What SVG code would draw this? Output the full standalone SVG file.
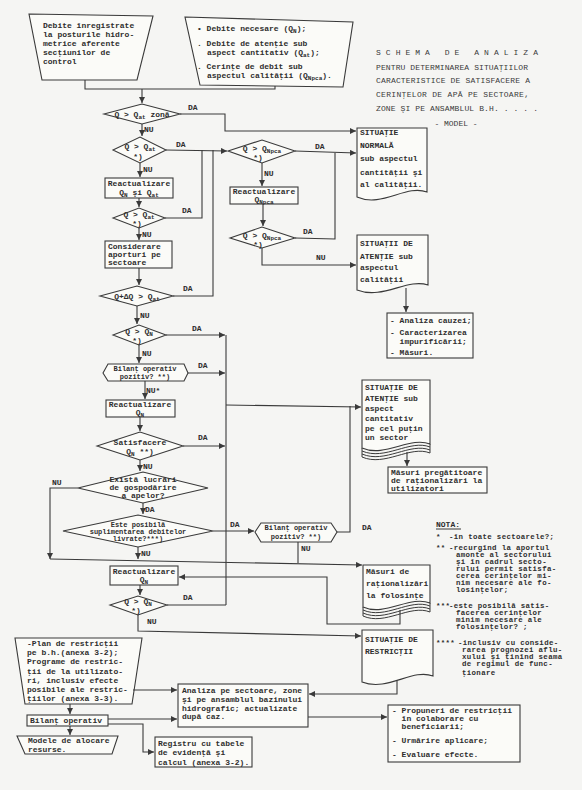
<svg xmlns="http://www.w3.org/2000/svg" width="582" height="790" viewBox="0 0 582 790">
<defs>
<style>
.n{fill:#fbfbf8;stroke:#3a3a3a;stroke-width:1.1}
.e{fill:none;stroke:#3a3a3a;stroke-width:1.1}
.w{fill:none;stroke:#3a3a3a;stroke-width:1}
text{font-family:"Liberation Mono","DejaVu Sans Mono",monospace;font-size:8px;fill:#2e2e2e;font-weight:bold}
.c{text-anchor:middle}
.s{font-size:6px}
.m{font-size:7px}
.nt{font-size:7.4px;letter-spacing:0.35px}
.ti{font-weight:normal;fill:#3a3a3a;white-space:pre}
</style>
<marker id="ar" viewBox="0 0 8 8" refX="8" refY="4" markerWidth="6" markerHeight="6" orient="auto" markerUnits="userSpaceOnUse">
<path d="M0,0 L8,4 L0,8 Z" fill="#3a3a3a"/>
</marker>
</defs>
<rect width="582" height="790" fill="#f5f5f3"/>

<g id="title">
<text class="ti" xml:space="preserve" x="376" y="55" textLength="162">S C H E M A   D E   A N A L I Z A</text>
<text class="ti" x="376" y="70" textLength="152">PENTRU DETERMINAREA SITUAŢIILOR</text>
<text class="ti" x="376" y="83" textLength="154">CARACTERISTICE DE SATISFACERE A</text>
<text class="ti" x="376" y="97" textLength="153">CERINŢELOR DE APĂ PE SECTOARE,</text>
<text class="ti" x="376" y="111" textLength="162">ZONE ŞI PE ANSAMBLUL B.H. . . . .</text>
<text class="ti c" x="456" y="126">- MODEL -</text>
</g>

<g id="debite-inregistrate">
<polygon class="n" points="29,14 153,16 137,80 42,80"/>
<text x="43" y="28"><tspan x="43" y="28">Debite înregistrate</tspan><tspan x="43" y="37">la posturile hidro-</tspan><tspan x="43" y="46">metrice aferente</tspan><tspan x="43" y="55">secţiunilor de</tspan><tspan x="43" y="64">control</tspan></text>
</g>

<g id="debite-necesare">
<polygon class="n" points="185,17 353,22 343,87 200,85"/>
<text x="197" y="31"><tspan x="197" y="31">• Debite necesare (Q</tspan><tspan class="s" dy="2">N</tspan><tspan dy="-2">);</tspan><tspan x="197" y="46">. Debite de atenţie sub</tspan><tspan x="207" y="55">aspect cantitativ (Q</tspan><tspan class="s" dy="2">at</tspan><tspan dy="-2">);</tspan><tspan x="197" y="69">. Cerinţe de debit sub</tspan><tspan x="207" y="78">aspectul calităţii (Q</tspan><tspan class="s" dy="2">Npca</tspan><tspan dy="-2">).</tspan></text>
</g>

<g id="d1">
<polygon class="n" points="104,114 142,104 180,114 142,124"/>
<text class="c" x="142" y="117">Q &gt; Q<tspan class="s" dy="2">at</tspan><tspan dy="-2"> zonă</tspan></text>
</g>

<g id="d2">
<polygon class="n" points="113,150 140,137 166,150 140,163"/>
<text class="c" x="140" y="149">Q &gt; Q<tspan class="s" dy="2">at</tspan><tspan x="138" y="159">*)</tspan></text>
</g>

<g id="reactualizare-qn-qat">
<rect class="n" x="105" y="178" width="68" height="20"/>
<text class="c" x="139" y="186"><tspan x="139" y="186">Reactualizare</tspan><tspan x="139" y="195">Q</tspan><tspan class="s" dy="2">N</tspan><tspan dy="-2"> şi Q</tspan><tspan class="s" dy="2">at</tspan></text>
</g>

<g id="d4">
<polygon class="n" points="113,218 139,208 165,218 139,228"/>
<text class="c" x="139" y="217">Q &gt; Q<tspan class="s" dy="2">at</tspan><tspan x="137" y="226">*)</tspan></text>
</g>

<g id="considerare">
<rect class="n" x="105" y="241" width="67" height="27"/>
<text x="108" y="249"><tspan x="108" y="249">Considerare</tspan><tspan x="108" y="257">aporturi pe</tspan><tspan x="108" y="265">sectoare</tspan></text>
</g>

<g id="d5">
<polygon class="n" points="100,296 137,286 173,296 137,306"/>
<text class="c" x="137" y="299">Q+ΔQ &gt; Q<tspan class="s" dy="2">at</tspan></text>
</g>

<g id="d6">
<polygon class="n" points="113,335 139,325 166,335 139,345"/>
<text class="c" x="139" y="334">Q &gt; Q<tspan class="s" dy="2">N</tspan><tspan x="137" y="343">*)</tspan></text>
</g>

<g id="bilant-1">
<polygon class="n" points="103,373 108,364 184,364 188,373 184,381 108,381"/>
<text class="c m" x="145" y="371"><tspan x="145" y="371">Bilanţ operativ</tspan><tspan x="145" y="379">pozitiv? **)</tspan></text>
</g>

<g id="reactualizare-qn-1">
<rect class="n" x="106" y="400" width="69" height="17"/>
<text class="c" x="140" y="407"><tspan x="140" y="407">Reactualizare</tspan><tspan x="140" y="415">Q</tspan><tspan class="s" dy="2">N</tspan></text>
</g>

<g id="d8">
<polygon class="n" points="97,446 140,432 183,446 140,460"/>
<text class="c" x="140" y="445"><tspan x="140" y="445">Satisfacere</tspan><tspan x="140" y="454">Q</tspan><tspan class="s" dy="2">N</tspan><tspan dy="-2"> **)</tspan></text>
</g>

<g id="d9">
<polygon class="n" points="78,488 143,472 208,488 143,503"/>
<text class="c" x="143" y="482"><tspan x="143" y="482">Există lucrări</tspan><tspan x="143" y="490">de gospodărire</tspan><tspan x="143" y="498">a apelor?</tspan></text>
</g>

<g id="d10">
<polygon class="n" points="63,531 138,515 213,531 138,547"/>
<text class="c m" x="138" y="527"><tspan x="138" y="527">Este posibilă</tspan><tspan x="138" y="534">suplimentarea debitelor</tspan><tspan x="138" y="541">livrate?***)</tspan></text>
</g>

<g id="bilant-2">
<polygon class="n" points="255,532 261,523 331,523 337,532 331,542 261,542"/>
<text class="c m" x="296" y="530"><tspan x="296" y="530">Bilanţ operativ</tspan><tspan x="296" y="539">pozitiv? **)</tspan></text>
</g>

<g id="reactualizare-qn-2">
<rect class="n" x="110" y="566" width="68" height="19"/>
<text class="c" x="144" y="574"><tspan x="144" y="574">Reactualizare</tspan><tspan x="144" y="582">Q</tspan><tspan class="s" dy="2">N</tspan></text>
</g>

<g id="d11">
<polygon class="n" points="110,605 138,596 167,605 138,615"/>
<text class="c" x="138" y="604">Q &gt; Q<tspan class="s" dy="2">N</tspan><tspan x="136" y="613">*)</tspan></text>
</g>

<g id="d3">
<polygon class="n" points="228,151 262,140 295,151 262,163"/>
<text class="c" x="262" y="151">Q &gt; Q<tspan class="s" dy="2">Npca</tspan><tspan x="258" y="160">*)</tspan></text>
</g>

<g id="reactualizare-qnpca">
<rect class="n" x="230" y="187" width="68" height="17"/>
<text class="c" x="264" y="194"><tspan x="264" y="194">Reactualizare</tspan><tspan x="264" y="202">Q</tspan><tspan class="s" dy="2">Npca</tspan></text>
</g>

<g id="d7">
<polygon class="n" points="230,238 262,227 295,238 262,248"/>
<text class="c" x="262" y="238">Q &gt; Q<tspan class="s" dy="2">Npca</tspan><tspan x="258" y="247">*)</tspan></text>
</g>

<g id="situatie-normala">
<path class="n" d="M357,128 H427 V192 C406,184 382,208 357,197 Z"/>
<text x="360" y="135"><tspan x="360" y="135">SITUAŢIE</tspan><tspan x="360" y="148">NORMALĂ</tspan><tspan x="360" y="161">sub aspectul</tspan><tspan x="360" y="175">cantităţii şi</tspan><tspan x="360" y="187">al calităţii.</tspan></text>
</g>

<g id="situatii-atentie-calitate">
<path class="n" d="M357,235 H428 V285 C407,278 383,300 357,290 Z"/>
<text x="360" y="246"><tspan x="360" y="246">SITUAŢII DE</tspan><tspan x="360" y="259">ATENŢIE sub</tspan><tspan x="360" y="270">aspectul</tspan><tspan x="360" y="282">calităţii</tspan></text>
</g>

<g id="analiza-cauzei">
<rect class="n" x="387" y="313" width="86" height="45"/>
<text x="390" y="323"><tspan x="390" y="323">- Analiza cauzei;</tspan><tspan x="390" y="335">- Caracterizarea</tspan><tspan x="390" y="344" xml:space="preserve">  impurificării;</tspan><tspan x="390" y="355">- Măsuri.</tspan></text>
</g>

<g id="situatie-atentie-cantitativ">
<path class="n" d="M362,380 H430 V444 C410,436 385,458 362,448 Z"/>
<path class="w" d="M362,451 C385,461 410,439 430,447"/>
<path class="w" d="M362,454 C385,464 410,442 430,450"/>
<path class="w" d="M362,457 C385,467 410,445 430,453"/>
<path class="w" d="M362,448 V457 M430,444 V453"/>
<text x="365" y="390"><tspan x="365" y="390">SITUAŢIE DE</tspan><tspan x="365" y="401">ATENŢIE sub</tspan><tspan x="365" y="411">aspect</tspan><tspan x="365" y="421">cantitativ</tspan><tspan x="365" y="431">pe cel puţin</tspan><tspan x="365" y="440">un sector</tspan></text>
</g>

<g id="masuri-pregatitoare">
<rect class="n" x="388" y="467" width="99" height="26"/>
<text x="391" y="475"><tspan x="391" y="475">Măsuri pregătitoare</tspan><tspan x="391" y="483">de raţionalizări la</tspan><tspan x="391" y="491">utilizatori</tspan></text>
</g>

<g id="masuri-rationalizare">
<path class="n" d="M363,565 H430 V603 C410,595 385,617 363,607 Z"/>
<path class="w" d="M363,610 C385,620 410,598 430,606"/>
<path class="w" d="M363,613 C385,623 410,601 430,609"/>
<path class="w" d="M363,616 C385,626 410,604 430,612"/>
<path class="w" d="M363,607 V616 M430,603 V612"/>
<text x="366" y="574"><tspan x="366" y="574">Măsuri de</tspan><tspan x="366" y="586">raţionalizări</tspan><tspan x="366" y="598">la folosinţe</tspan></text>
</g>

<g id="situatie-restrictii">
<path class="n" d="M362,630 H433 V676 C412,668 388,692 362,682 Z"/>
<text x="365" y="642"><tspan x="365" y="642">SITUAŢIE DE</tspan><tspan x="365" y="654">RESTRICŢII</tspan></text>
</g>

<g id="nota">
<text x="436" y="527">NOTA:</text>
<line class="w" x1="436" y1="529" x2="461" y2="529"/>
<text class="nt" x="436" y="539"><tspan x="436" y="539">*</tspan><tspan x="449" y="539">-în toate sectoarele?;</tspan></text>
<text class="nt" x="436" y="550"><tspan x="436" y="550">**</tspan><tspan x="449" y="550">-recurgînd la aportul</tspan><tspan x="456" y="557">amonte al sectorului</tspan><tspan x="456" y="564">şi în cadrul secto-</tspan><tspan x="456" y="571">rului permit satisfa-</tspan><tspan x="456" y="578">cerea cerinţelor mi-</tspan><tspan x="456" y="585">nim necesare ale fo-</tspan><tspan x="456" y="592">losinţelor;</tspan></text>
<text class="nt" x="436" y="608"><tspan x="436" y="608">***</tspan><tspan x="449" y="608">-este posibilă satis-</tspan><tspan x="456" y="615">facerea cerinţelor</tspan><tspan x="456" y="622">minim necesare ale</tspan><tspan x="456" y="629">folosinţelor? ;</tspan></text>
<text class="nt" x="436" y="645"><tspan x="436" y="645">****</tspan><tspan x="458" y="645">-inclusiv cu conside-</tspan><tspan x="462" y="652">rarea prognozei aflu-</tspan><tspan x="462" y="659">xului şi ţinînd seama</tspan><tspan x="462" y="666">de regimul de func-</tspan><tspan x="462" y="675">ţionare</tspan></text>
</g>

<g id="plan-restrictii">
<polygon class="n" points="15,638 142,638 132,704 25,704"/>
<text x="27" y="646"><tspan x="27" y="646">-Plan de restricţii</tspan><tspan x="27" y="655">pe b.h.(anexa 3-2);</tspan><tspan x="27" y="664">Programe de restric-</tspan><tspan x="27" y="674">ţii de la utilizato-</tspan><tspan x="27" y="683">ri, inclusiv efecte</tspan><tspan x="27" y="692">posibile ale restric-</tspan><tspan x="27" y="701">ţiilor (anexa 3-3).</tspan></text>
</g>

<g id="analiza-sectoare">
<rect class="n" x="178" y="684" width="130" height="43"/>
<text x="182" y="693"><tspan x="182" y="693">Analiza pe sectoare, zone</tspan><tspan x="182" y="702">şi pe ansamblul bazinului</tspan><tspan x="182" y="711">hidrografic; actualizate</tspan><tspan x="182" y="719">după caz.</tspan></text>
</g>

<g id="bilant-operativ">
<rect class="n" x="27" y="715" width="81" height="11"/>
<text x="30" y="723">Bilanţ operativ</text>
</g>

<g id="modele-alocare">
<polygon class="n" points="17,736 118,736 112,754 25,754"/>
<text x="28" y="743"><tspan x="28" y="743">Modele de alocare</tspan><tspan x="28" y="752">resurse.</tspan></text>
</g>

<g id="registru">
<rect class="n" x="155" y="737" width="97" height="30"/>
<text x="158" y="746"><tspan x="158" y="746">Registru cu tabele</tspan><tspan x="158" y="755">de evidenţă şi</tspan><tspan x="158" y="765">calcul (anexa 3-2).</tspan></text>
</g>

<g id="propuneri">
<rect class="n" x="388" y="705" width="132" height="57"/>
<text x="392" y="713"><tspan x="392" y="713">- Propuneri de restricţii</tspan><tspan x="392" y="721" xml:space="preserve">  în colaborare cu</tspan><tspan x="392" y="729" xml:space="preserve">  beneficiarii;</tspan><tspan x="392" y="743">- Urmărire aplicare;</tspan><tspan x="392" y="757">- Evaluare efecte.</tspan></text>
</g>

<g id="connectors">
<path class="e" d="M85,80 V89 H275 V86"/>
<path class="e" d="M142,89 V103" marker-end="url(#ar)"/>
<path class="e" d="M180,114 H225 V131 H356" marker-end="url(#ar)"/>
<path class="e" d="M142,124 V136" marker-end="url(#ar)"/>
<path class="e" d="M166,150 L227,151" marker-end="url(#ar)"/>
<path class="e" d="M140,163 V177" marker-end="url(#ar)"/>
<path class="e" d="M139,198 V207" marker-end="url(#ar)"/>
<path class="e" d="M165,218 H202 V150"/>
<path class="e" d="M139,228 V240" marker-end="url(#ar)"/>
<path class="e" d="M139,268 V285" marker-end="url(#ar)"/>
<path class="e" d="M173,296 H213 V150"/>
<path class="e" d="M137,306 V324" marker-end="url(#ar)"/>
<path class="e" d="M166,335 H225" marker-end="url(#ar)"/>
<path class="e" d="M226,335 V605"/>
<path class="e" d="M139,345 V363" marker-end="url(#ar)"/>
<path class="e" d="M188,373 H225" marker-end="url(#ar)"/>
<path class="e" d="M145,381 V399" marker-end="url(#ar)"/>
<path class="e" d="M140,417 V431" marker-end="url(#ar)"/>
<path class="e" d="M183,446 H225" marker-end="url(#ar)"/>
<path class="e" d="M140,460 V471" marker-end="url(#ar)"/>
<path class="e" d="M78,488 H50 V559" marker-end="url(#ar)"/>
<path class="e" d="M143,503 V514" marker-end="url(#ar)"/>
<path class="e" d="M213,531 H254" marker-end="url(#ar)"/>
<path class="e" d="M138,547 V559" marker-end="url(#ar)"/>
<path class="e" d="M50,559 L362,565" marker-end="url(#ar)"/>
<path class="e" d="M298,542 V563"/>
<path class="e" d="M337,532 H350 V406"/>
<path class="e" d="M226,405 L361,407" marker-end="url(#ar)"/>
<path class="e" d="M407,452 V466" marker-end="url(#ar)"/>
<path class="e" d="M295,151 L356,153" marker-end="url(#ar)"/>
<path class="e" d="M262,163 V186" marker-end="url(#ar)"/>
<path class="e" d="M263,204 V226" marker-end="url(#ar)"/>
<path class="e" d="M295,238 L335,239 V153"/>
<path class="e" d="M262,248 V265 H356" marker-end="url(#ar)"/>
<path class="e" d="M406,288 V312" marker-end="url(#ar)"/>
<path class="e" d="M400,610 V624 H327 V577 H179" marker-end="url(#ar)"/>
<path class="e" d="M140,585 V595" marker-end="url(#ar)"/>
<path class="e" d="M167,605 H226"/>
<path class="e" d="M138,615 V631 L361,636" marker-end="url(#ar)"/>
<path class="e" d="M397,681 V694 H309" marker-end="url(#ar)"/>
<path class="e" d="M133,690 H177" marker-end="url(#ar)"/>
<path class="e" d="M70,704 V714" marker-end="url(#ar)"/>
<path class="e" d="M108,719 H177" marker-end="url(#ar)"/>
<path class="e" d="M108,724 H143 V752 H154" marker-end="url(#ar)"/>
<path class="e" d="M70,726 V735" marker-end="url(#ar)"/>
<path class="e" d="M308,717 H387" marker-end="url(#ar)"/>
<text x="188" y="110">DA</text>
<text x="144" y="132">NU</text>
<text x="176" y="147">DA</text>
<text x="143" y="172">NU</text>
<text x="182" y="213">DA</text>
<text x="142" y="237">NU</text>
<text x="183" y="291">DA</text>
<text x="140" y="318">NU</text>
<text x="192" y="331">DA</text>
<text x="142" y="356">NU</text>
<text x="198" y="368">DA</text>
<text x="146" y="393">NU*</text>
<text x="198" y="440">DA</text>
<text x="143" y="469">NU</text>
<text x="52" y="485">NU</text>
<text x="145" y="512">DA</text>
<text x="230" y="527">DA</text>
<text x="141" y="556">NU</text>
<text x="301" y="551">NU</text>
<text x="362" y="530">DA</text>
<text x="183" y="600">DA</text>
<text x="147" y="624">NU</text>
<text x="315" y="149">DA</text>
<text x="264" y="176">NU</text>
<text x="303" y="234">DA</text>
<text x="316" y="260">NU</text>
</g>
</svg>
